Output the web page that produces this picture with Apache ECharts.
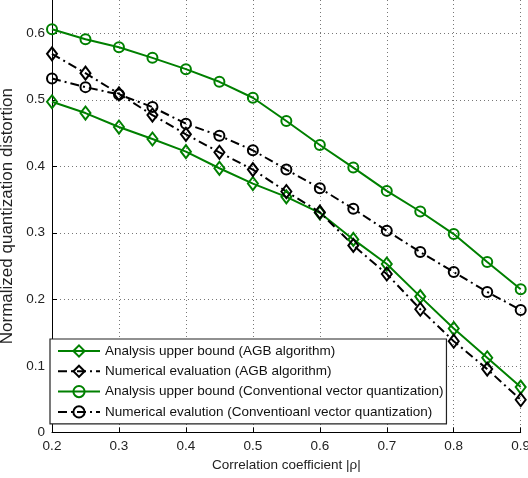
<!DOCTYPE html>
<html>
<head>
<meta charset="utf-8">
<script src="https://cdn.jsdelivr.net/npm/echarts@6/dist/echarts.min.js"></script>
<style>html,body{margin:0;padding:0;background:#fff;}#c{width:528px;height:478px;}</style>
</head>
<body>
<div id="c"></div>
<script>
var rho = [0.2,0.25,0.3,0.35,0.4,0.45,0.5,0.55,0.6,0.65,0.7,0.75,0.8,0.85,0.9];
var agbBound = [0.497,0.480,0.459,0.441,0.422,0.397,0.374,0.354,0.330,0.290,0.253,0.204,0.156,0.112,0.068];
var agbNum = [0.569,0.540,0.509,0.477,0.448,0.421,0.395,0.362,0.331,0.281,0.238,0.185,0.137,0.095,0.049];
var vqBound = [0.606,0.591,0.579,0.563,0.546,0.527,0.503,0.468,0.432,0.398,0.363,0.332,0.298,0.256,0.215];
var vqNum = [0.532,0.519,0.508,0.489,0.464,0.446,0.424,0.395,0.367,0.336,0.303,0.271,0.241,0.211,0.184];
var names = [
  'Analysis upper bound (AGB algorithm)',
  'Numerical evaluation (AGB algorithm)',
  'Analysis upper bound (Conventional vector quantization)',
  'Numerical evalution (Conventioanl vector quantization)'
];
var xTicks = [0.2,0.3,0.4,0.5,0.6,0.7,0.8,0.9];
var yTicks = [0,0.1,0.2,0.3,0.4,0.5,0.6];

function pairs(ys){ return rho.map(function(x,i){ return [x, ys[i]]; }); }
var green = '#008000', black = '#000000';
var FONT = 'Liberation Sans';
function mk(name, ys, color, symbol, size, dashed){
  return {
    name: name, type: 'line', data: pairs(ys),
    symbol: symbol, symbolSize: size, showSymbol: true,
    lineStyle: { color: color, width: 2, type: dashed ? [9,4,2,4] : 'solid' },
    itemStyle: { color: 'rgba(255,255,255,0)', borderColor: color, borderWidth: 2 },
    emphasis: { disabled: true }, animation: false
  };
}
var chart = echarts.init(document.getElementById('c'), null, {renderer: 'canvas'});
chart.setOption({
  backgroundColor: '#fff',
  animation: false,
  grid: { left: 52, right: 7.3, top: 0, bottom: 45.7, containLabel: false, outerBoundsMode: 'none' },
  xAxis: {
    type: 'value', min: 0.2, max: 0.9, interval: 0.1,
    name: 'Correlation coefficient |\u03c1|', nameLocation: 'middle', nameGap: 24,
    nameTextStyle: { fontFamily: FONT, fontSize: 13.5, color: '#222' },
    axisLine: { show: true, lineStyle: { color: '#000', width: 1 } },
    axisTick: { show: true, inside: true, length: 5, lineStyle: { color: '#000' } },
    axisLabel: { fontFamily: FONT, fontSize: 13.5, color: '#222', margin: 7,
      formatter: function(v){ return xTicks.indexOf(Math.round(v*10)/10) >= 0 ? v.toFixed(1) : ''; } },
    splitLine: { show: true, lineStyle: { color: '#777', width: 1, type: [1,3] } }
  },
  yAxis: {
    type: 'value', min: 0, max: 0.65, interval: 0.1,
    name: 'Normalized quantization distortion', nameLocation: 'middle', nameGap: 28,
    nameTextStyle: { fontFamily: FONT, fontSize: 17, color: '#222' },
    axisLine: { show: true, lineStyle: { color: '#000', width: 1 } },
    axisTick: { show: true, inside: true, length: 5, lineStyle: { color: '#000' } },
    axisLabel: { fontFamily: FONT, fontSize: 13.5, color: '#222', margin: 7, showMaxLabel: false,
      formatter: function(v){ var r = Math.round(v*10)/10; if (Math.abs(v-r) > 1e-6) return ''; return r === 0 ? '0' : r.toFixed(1); } },
    splitLine: { show: true, showMaxLine: false, lineStyle: { color: '#777', width: 1, type: [1,3] } }
  },
  legend: {
    orient: 'vertical', left: 50, top: 339,
    padding: [5, 3, 5, 7], itemGap: 6.3, itemWidth: 42, itemHeight: 14,
    backgroundColor: '#fff', borderColor: '#222', borderWidth: 1.2, borderRadius: 0,
    textStyle: { fontFamily: FONT, fontSize: 13.5, color: '#111' },
    data: names, selectedMode: false
  },
  series: [
    mk(names[0], agbBound, green, 'diamond', [10,13], false),
    mk(names[1], agbNum, black, 'diamond', [10,13], true),
    mk(names[2], vqBound, green, 'circle', 10, false),
    mk(names[3], vqNum, black, 'circle', 10, true)
  ]
});
</script>
</body>
</html>
